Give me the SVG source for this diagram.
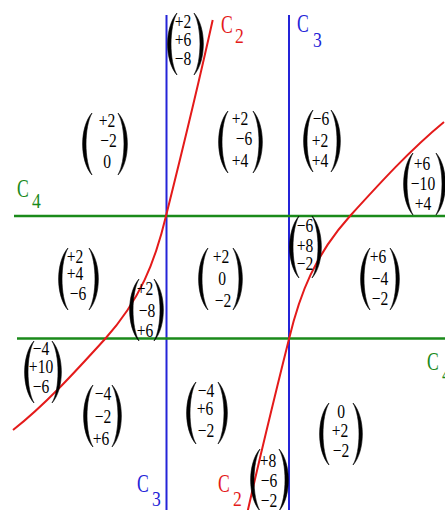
<svg xmlns="http://www.w3.org/2000/svg" xmlns:xlink="http://www.w3.org/1999/xlink" width="445" height="510" viewBox="0 0 445 510" font-family="'Liberation Serif', 'Times New Roman', serif">
<style>
text{font-family:"Liberation Serif","Times New Roman",serif}
.e{font-size:19px;text-anchor:middle;fill:#000;transform-box:fill-box;transform-origin:center;transform:scaleX(0.82)}
.c{font-size:26px;transform-box:fill-box;transform-origin:left;transform:scaleX(0.68)}
.s{font-size:22px;transform-box:fill-box;transform-origin:left;transform:scaleX(0.8)}
.red{fill:#e41a1a}.blue{fill:#2424d8}.green{fill:#1a8a1a}
.p{fill:#000;stroke:#000;stroke-width:0.6}
</style>
<defs>
<path id="lp" class="p" d="M11,0 C-1.5,14 -1.5,48 11,62 C3,48 3,14 11,0 Z"/>
<path id="rp" class="p" d="M0,0 C12.5,14 12.5,48 0,62 C8,48 8,14 0,0 Z"/>
</defs>
<rect width="445" height="510" fill="#fff"/>
<g id="connectors" fill="none">
<line x1="166.5" y1="15" x2="166.5" y2="510" stroke="#2424d8" stroke-width="2"/>
<line x1="289" y1="15" x2="289" y2="510" stroke="#2424d8" stroke-width="2"/>
<line x1="14" y1="216" x2="445" y2="216" stroke="#1a8a1a" stroke-width="2.5"/>
<line x1="17" y1="338.5" x2="445" y2="338.5" stroke="#1a8a1a" stroke-width="2.5"/>
<path id="c2a" d="M212.7,20 C195,100 175,180 166,216 C155,262 140,300 105,339 C75,372 45,405 13,430" stroke="#e41a1a" stroke-width="2"/>
<path id="c2b" d="M212.7,20 C195,100 175,180 166,216 C155,262 140,300 105,339 C75,372 45,405 11,433" stroke="#e41a1a" stroke-width="2" transform="rotate(180 227.5 277.5)"/>
</g>
<g id="labels">
<g id="lab-c2-top"><text class="c red" x="221" y="33">C</text><text class="s red" x="235" y="43">2</text></g>
<g id="lab-c3-top"><text class="c blue" x="297" y="32">C</text><text class="s blue" x="313" y="47">3</text></g>
<g id="lab-c4-left"><text class="c green" x="17" y="197">C</text><text class="s green" x="32" y="208">4</text></g>
<g id="lab-c4-right"><text class="c green" x="427" y="370">C</text><text class="s green" x="442" y="381">4</text></g>
<g id="lab-c3-bot"><text class="c blue" x="137" y="492">C</text><text class="s blue" x="152" y="506">3</text></g>
<g id="lab-c2-bot"><text class="c red" x="218" y="492">C</text><text class="s red" x="233" y="506">2</text></g>
</g>
<g id="m1"><use xlink:href="#lp" x="166" y="13"/><use xlink:href="#rp" x="194" y="13"/><text class="e" x="183" y="28">+2</text><text class="e" x="183" y="46.5">+6</text><text class="e" x="183" y="65">−8</text></g>
<g id="m2"><use xlink:href="#lp" x="81" y="113"/><use xlink:href="#rp" x="118" y="113"/><text class="e" x="107" y="127">+2</text><text class="e" x="108.5" y="147">−2</text><text class="e" x="107" y="168">0</text></g>
<g id="m3"><use xlink:href="#lp" x="217" y="111"/><use xlink:href="#rp" x="253" y="111"/><text class="e" x="240" y="125">+2</text><text class="e" x="244" y="145">−6</text><text class="e" x="240" y="167">+4</text></g>
<g id="m4"><use xlink:href="#lp" x="302" y="110"/><use xlink:href="#rp" x="331" y="110"/><text class="e" x="321" y="125">−6</text><text class="e" x="320" y="147">+2</text><text class="e" x="320" y="167">+4</text></g>
<g id="m5"><use xlink:href="#lp" x="402" y="153"/><use xlink:href="#rp" x="436" y="153"/><text class="e" x="422" y="170">+6</text><text class="e" x="423" y="190">−10</text><text class="e" x="423" y="210">+4</text></g>
<g id="m6"><use xlink:href="#lp" x="57" y="248"/><use xlink:href="#rp" x="89" y="248"/><text class="e" x="75" y="263">+2</text><text class="e" x="75" y="280">+4</text><text class="e" x="78" y="300">−6</text></g>
<g id="m7"><use xlink:href="#lp" x="128" y="279"/><use xlink:href="#rp" x="154" y="279"/><text class="e" x="145" y="295">+2</text><text class="e" x="147" y="317">−8</text><text class="e" x="145" y="337">+6</text></g>
<g id="m8"><use xlink:href="#lp" x="197" y="248"/><use xlink:href="#rp" x="233" y="248"/><text class="e" x="221" y="263">+2</text><text class="e" x="222" y="285">0</text><text class="e" x="223" y="307">−2</text></g>
<g id="m9"><use xlink:href="#lp" x="288" y="216"/><use xlink:href="#rp" x="312" y="216"/><text class="e" x="305" y="232">−6</text><text class="e" x="305" y="252">+8</text><text class="e" x="305" y="270">−2</text></g>
<g id="m10"><use xlink:href="#lp" x="359" y="248"/><use xlink:href="#rp" x="390" y="248"/><text class="e" x="378" y="263">+6</text><text class="e" x="380" y="285">−4</text><text class="e" x="380" y="305">−2</text></g>
<g id="m11"><use xlink:href="#lp" x="23" y="341"/><use xlink:href="#rp" x="52" y="341"/><text class="e" x="41" y="355">−4</text><text class="e" x="41" y="373">+10</text><text class="e" x="41" y="393">−6</text></g>
<g id="m12"><use xlink:href="#lp" x="82" y="385"/><use xlink:href="#rp" x="112" y="385"/><text class="e" x="103" y="400">−4</text><text class="e" x="103" y="423">−2</text><text class="e" x="101" y="445">+6</text></g>
<g id="m13"><use xlink:href="#lp" x="185" y="382"/><use xlink:href="#rp" x="218" y="382"/><text class="e" x="206" y="397">−4</text><text class="e" x="205" y="415">+6</text><text class="e" x="206" y="437">−2</text></g>
<g id="m14"><use xlink:href="#lp" x="318" y="403"/><use xlink:href="#rp" x="353" y="403"/><text class="e" x="341" y="418">0</text><text class="e" x="340" y="437">+2</text><text class="e" x="341" y="457">−2</text></g>
<g id="m15"><use xlink:href="#lp" x="249" y="449"/><use xlink:href="#rp" x="279" y="449"/><text class="e" x="268" y="467">+8</text><text class="e" x="269" y="487">−6</text><text class="e" x="269" y="507">−2</text></g>
</svg>
